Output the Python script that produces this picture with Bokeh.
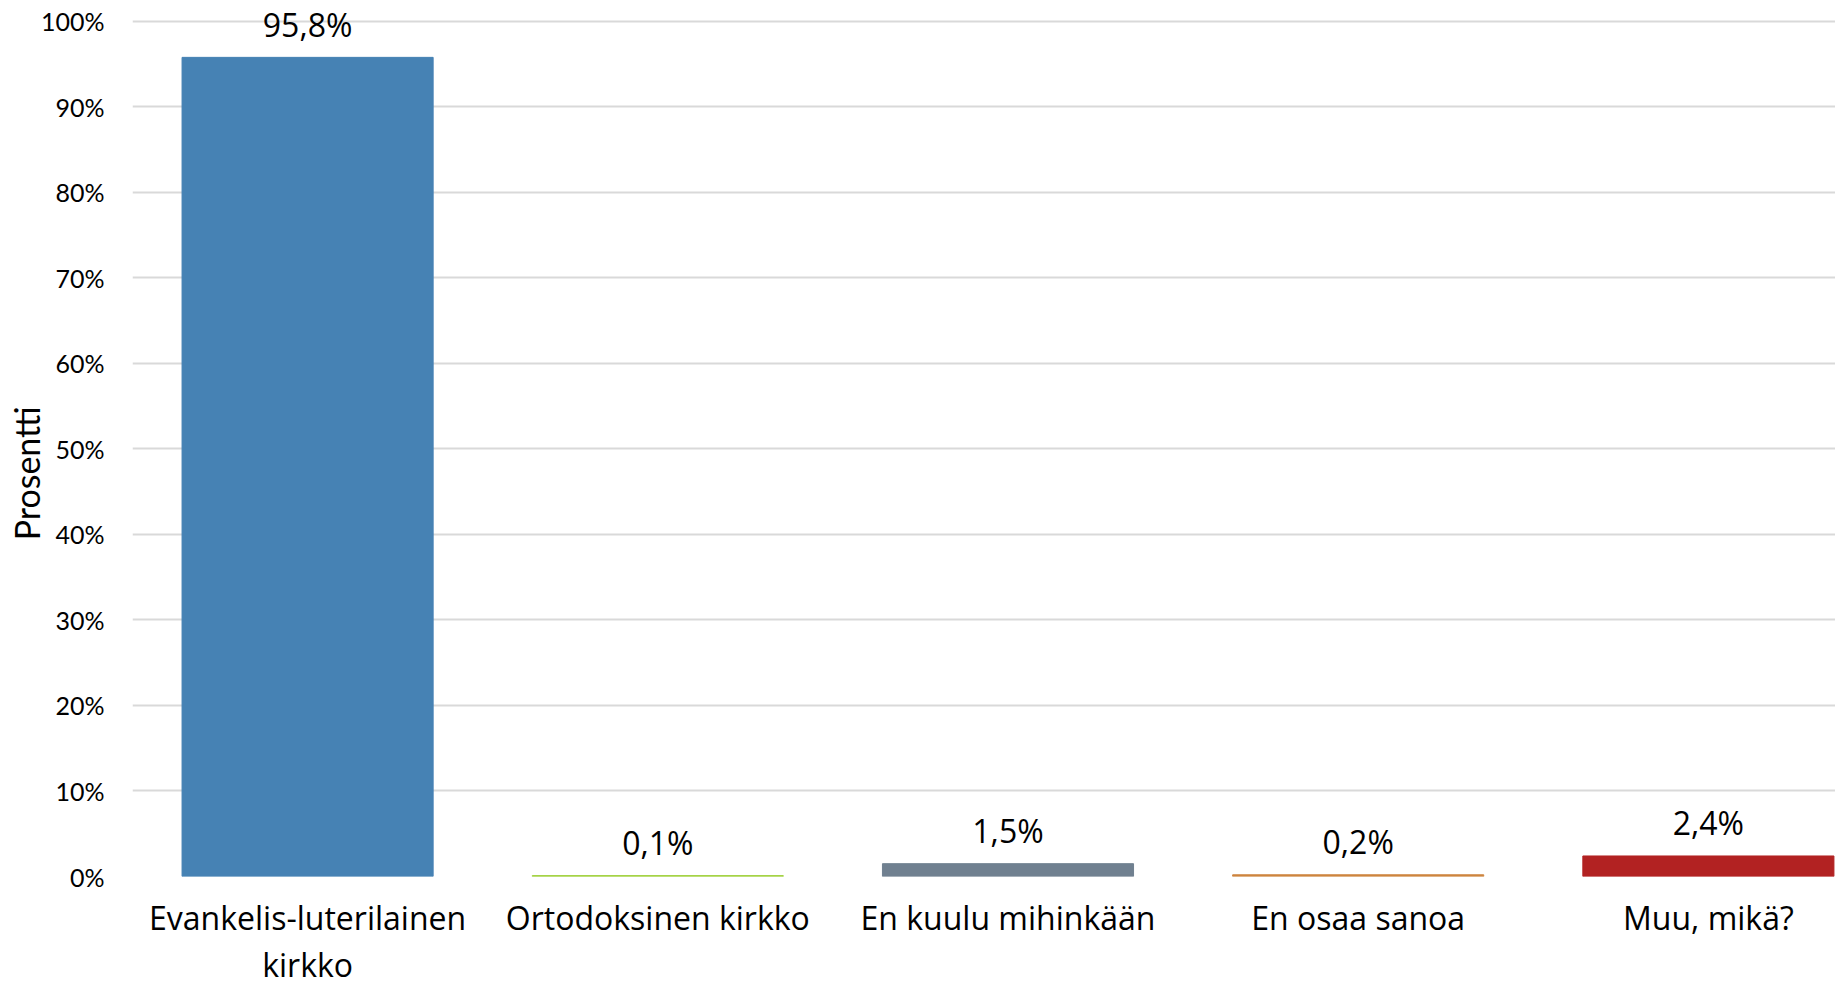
from bokeh.plotting import figure
from bokeh.models import Range1d, FixedTicker, ColumnDataSource
from bokeh.core.properties import value
from bokeh.embed import file_html
from bokeh.resources import INLINE

categories = ["Evankelis-luterilainen\nkirkko", "Ortodoksinen kirkko", "En kuulu mihinkään",
              "En osaa sanoa", "Muu, mikä?"]
values = [95.8, 0.1, 1.5, 0.2, 2.4]
labels = ["95,8%", "0,1%", "1,5%", "0,2%", "2,4%"]
colors = ["#4682B4", "#9ACD32", "#708090", "#CD853F", "#B22222"]
y_ticks = [0, 10, 20, 30, 40, 50, 60, 70, 80, 90, 100]
y_tick_labels = ["0%", "10%", "20%", "30%", "40%", "50%", "60%", "70%", "80%", "90%", "100%"]
y_title = "Prosentti"

xs = [i + 0.5 for i in range(len(categories))]
src = ColumnDataSource(dict(x=xs, top=values, label=labels, color=colors))

p = figure(width=1835, height=988, output_backend="svg", toolbar_location=None,
           x_range=Range1d(0, 4.863), y_range=Range1d(0, 102.45),
           min_border_left=132, min_border_right=0, min_border_top=0, min_border_bottom=0)
p.outline_line_color = None
p.background_fill_color = "white"
p.border_fill_color = "white"

p.vbar(x="x", top="top", bottom=0, width=0.717, color="color", source=src)
p.text(x="x", y="top", text="label", source=src, text_align="center",
       text_baseline="alphabetic", y_offset=-33, text_font=value("Open Sans"),
       text_font_size="32px", text_color="#000000")

p.xgrid.grid_line_color = None
p.ygrid.grid_line_color = "#d9d9d9"
p.ygrid.grid_line_width = 2
p.ygrid.ticker = FixedTicker(ticks=y_ticks)

p.yaxis.ticker = FixedTicker(ticks=y_ticks)
p.yaxis.major_label_overrides = {t: l for t, l in zip(y_ticks, y_tick_labels)}
p.yaxis.axis_line_color = None
p.yaxis.major_tick_line_color = None
p.yaxis.minor_tick_line_color = None
p.yaxis.major_tick_out = 0
p.yaxis.major_tick_in = 0
p.yaxis.minor_tick_out = 0
p.yaxis.minor_tick_in = 0
p.yaxis.major_label_standoff = 28
p.yaxis.major_label_text_font = "Lato"
p.yaxis.major_label_text_font_size = "25px"
p.yaxis.major_label_text_color = "#000000"
# trailing no-break spaces shift the centred title slightly downward, as in the reference
p.yaxis.axis_label = y_title + "\u00a0" * 8
p.yaxis.axis_label_text_font = "Lato"
p.yaxis.axis_label_text_font_size = "34px"
p.yaxis.axis_label_text_font_style = "normal"
p.yaxis.axis_label_text_color = "#000000"
p.yaxis.axis_label_standoff = -9

p.xaxis.ticker = FixedTicker(ticks=xs)
p.xaxis.major_label_overrides = {x: c for x, c in zip(xs, categories)}
p.xaxis.axis_line_color = None
p.xaxis.major_tick_line_color = None
p.xaxis.minor_tick_line_color = None
p.xaxis.major_tick_out = 0
p.xaxis.major_tick_in = 0
p.xaxis.minor_tick_out = 0
p.xaxis.minor_tick_in = 0
p.xaxis.major_label_standoff = 19
p.xaxis.major_label_text_font = "Open Sans"
p.xaxis.major_label_text_font_size = "32px"
p.xaxis.major_label_text_color = "#000000"
p.xaxis.major_label_text_line_height = 1.1

open("out.html", "w").write(file_html(p, INLINE))
